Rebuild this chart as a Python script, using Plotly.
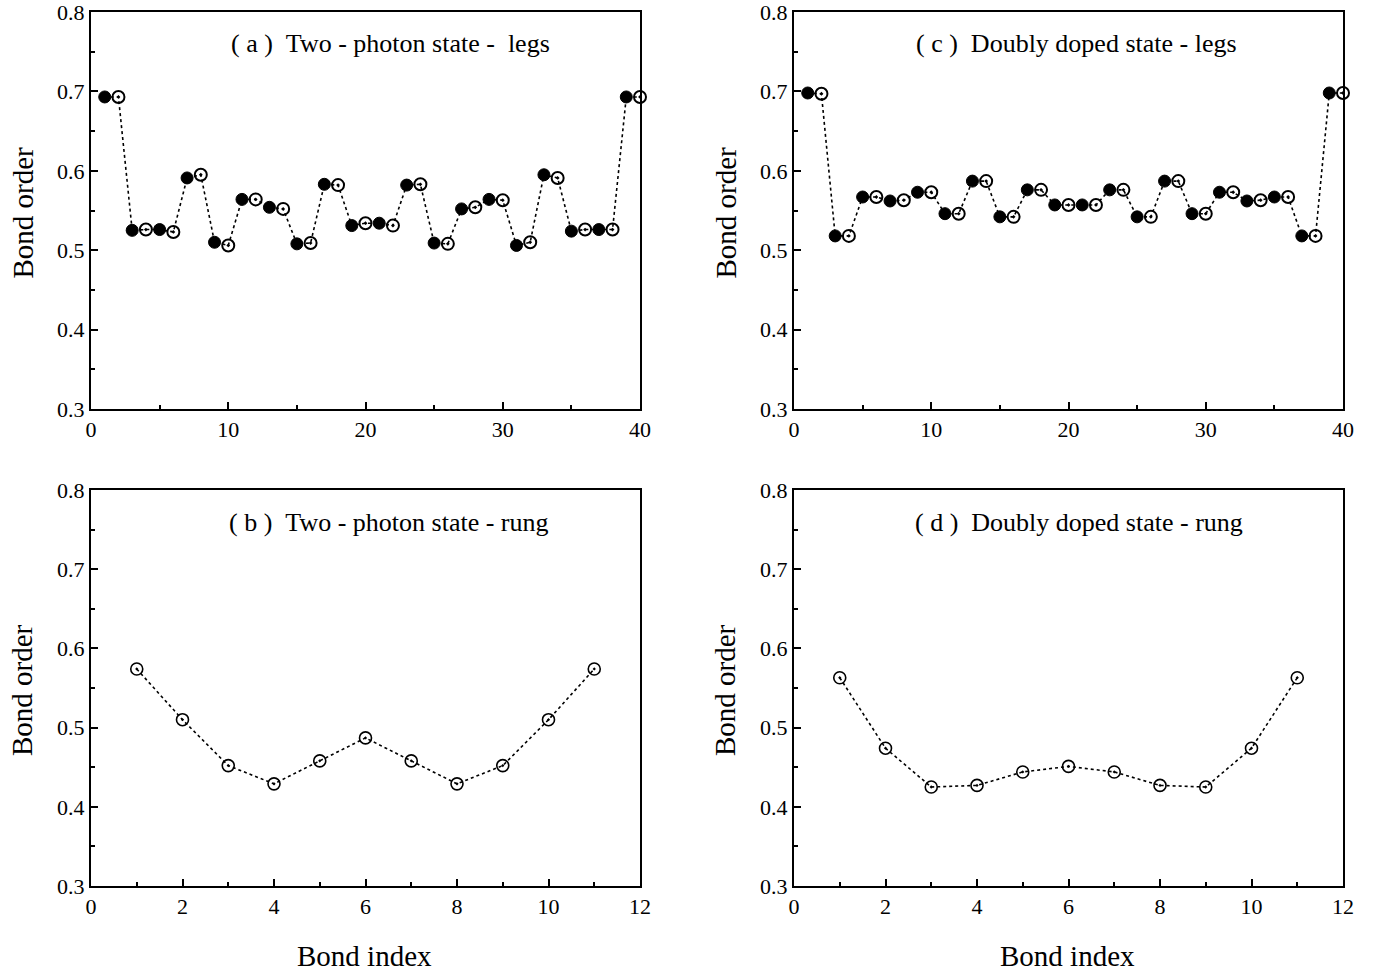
import plotly.graph_objects as go

# ---- data ----
legs_index = list(range(1, 41))
rung_index = list(range(1, 12))

two_photon_legs = [0.693, 0.693, 0.525, 0.526, 0.526, 0.523, 0.591, 0.595, 0.510, 0.506,
                   0.564, 0.564, 0.554, 0.552, 0.508, 0.509, 0.583, 0.582, 0.531, 0.534,
                   0.534, 0.531, 0.582, 0.583, 0.509, 0.508, 0.552, 0.554, 0.564, 0.563,
                   0.506, 0.510, 0.595, 0.591, 0.524, 0.526, 0.526, 0.526, 0.693, 0.693]
doped_legs = [0.698, 0.697, 0.518, 0.518, 0.567, 0.567, 0.562, 0.563, 0.573, 0.573,
              0.546, 0.546, 0.587, 0.587, 0.542, 0.542, 0.576, 0.576, 0.557, 0.557,
              0.557, 0.557, 0.576, 0.576, 0.542, 0.542, 0.587, 0.587, 0.546, 0.546,
              0.573, 0.573, 0.562, 0.563, 0.567, 0.567, 0.518, 0.518, 0.698, 0.698]
two_photon_rung = [0.574, 0.510, 0.452, 0.429, 0.458, 0.487, 0.458, 0.429, 0.452, 0.510, 0.574]
doped_rung = [0.563, 0.474, 0.425, 0.427, 0.444, 0.451, 0.444, 0.427, 0.425, 0.474, 0.563]

titles = ["( a )  Two - photon state -  legs", "( b )  Two - photon state - rung",
          "( c )  Doubly doped state - legs", "( d )  Doubly doped state - rung"]
y_title = "Bond order"
x_title = "Bond index"

FONT = "Liberation Serif"
W, H = 1379, 973

fig = go.Figure()

panels = [
    # (xaxis id, yaxis id, x, y, legs?, title, x px span, y px span, title center px)
    ("x", "y", legs_index, two_photon_legs, True, titles[0], (91, 640), (12, 409), 390),
    ("x2", "y2", rung_index, two_photon_rung, False, titles[1], (91, 640), (490, 886), 389),
    ("x3", "y3", legs_index, doped_legs, True, titles[2], (794, 1343), (12, 409), 1076),
    ("x4", "y4", rung_index, doped_rung, False, titles[3], (794, 1343), (490, 886), 1079),
]

for xa, ya, xs, ys, legs, title, xpx, ypx, tcx in panels:
    fig.add_trace(go.Scatter(
        x=xs, y=ys, xaxis=xa, yaxis=ya, mode="lines",
        line=dict(color="black", width=1.6, dash="dot"),
        showlegend=False, hoverinfo="skip", cliponaxis=False))
    if legs:
        fig.add_trace(go.Scatter(
            x=xs[0::2], y=ys[0::2], xaxis=xa, yaxis=ya, mode="markers",
            marker=dict(symbol="circle", size=12, color="black",
                        line=dict(color="black", width=1)),
            showlegend=False, cliponaxis=False))
        fig.add_trace(go.Scatter(
            x=xs[1::2], y=ys[1::2], xaxis=xa, yaxis=ya, mode="markers",
            marker=dict(symbol="circle-open-dot", size=12, color="black",
                        line=dict(color="black", width=2)),
            showlegend=False, cliponaxis=False))
    else:
        fig.add_trace(go.Scatter(
            x=xs, y=ys, xaxis=xa, yaxis=ya, mode="markers",
            marker=dict(symbol="circle-open-dot", size=12, color="black",
                        line=dict(color="black", width=1.6)),
            showlegend=False, cliponaxis=False))

    xdom = [xpx[0] / W, xpx[1] / W]
    ydom = [1 - ypx[1] / H, 1 - ypx[0] / H]
    xkey = "xaxis" if xa == "x" else "xaxis" + xa[1:]
    ykey = "yaxis" if ya == "y" else "yaxis" + ya[1:]
    if legs:
        xr, xdt, xmin = [0, 40], 10, 5
    else:
        xr, xdt, xmin = [0, 12], 2, 1
    fig.layout[xkey] = dict(
        domain=xdom, anchor=ya, range=xr, dtick=xdt, tick0=0, ticks="inside",
        ticklen=7, tickwidth=1.5, tickcolor="black", showgrid=False, zeroline=False,
        showline=True, linecolor="black", linewidth=2, mirror=True, automargin=False,
        ticklabeloverflow="allow", ticklabelstandoff=0,
        tickfont=dict(family=FONT, size=22, color="black"),
        minor=dict(ticks="inside", ticklen=4, dtick=xmin, tick0=0, tickcolor="black",
                   tickwidth=1.5, showgrid=False),
    )
    fig.layout[ykey] = dict(
        domain=ydom, anchor=xa, range=[0.3, 0.8], dtick=0.1, tick0=0.3, ticks="inside",
        ticklen=7, tickwidth=1.5, tickcolor="black", showgrid=False, zeroline=False,
        showline=True, linecolor="black", linewidth=2, mirror=True, automargin=False,
        ticklabeloverflow="allow", tickformat=".1f",
        tickfont=dict(family=FONT, size=22, color="black"),
        minor=dict(ticks="inside", ticklen=4, dtick=0.05, tick0=0.3, tickcolor="black",
                   tickwidth=1.5, showgrid=False),
    )
    # panel title
    fig.add_annotation(
        text=title.replace(" ", "\u00a0"), xref="paper", yref="paper",
        x=tcx / W, y=1 - (ypx[0] + 32) / H, showarrow=False,
        xanchor="center", yanchor="middle",
        font=dict(family=FONT, size=26, color="black"))
    # y-axis title
    fig.add_annotation(
        text=y_title, xref="paper", yref="paper", textangle=-90,
        x=(xpx[0] - 69) / W, y=1 - ((ypx[0] + ypx[1]) / 2 + 2) / H, showarrow=False,
        xanchor="center", yanchor="middle",
        font=dict(family=FONT, size=29, color="black"))
    if not legs:
        fig.add_annotation(
            text=x_title, xref="paper", yref="paper",
            x=((xpx[0] + xpx[1]) / 2 - 1) / W, y=1 - 956 / H, showarrow=False,
            xanchor="center", yanchor="middle",
            font=dict(family=FONT, size=29, color="black"))

fig.update_layout(
    width=W, height=H, margin=dict(l=0, r=0, t=0, b=0),
    plot_bgcolor="white", paper_bgcolor="white", showlegend=False,
)

fig.write_html("out.html", config={"displayModeBar": False},
               post_script="document.body.style.margin='0';document.body.style.overflow='hidden';")
